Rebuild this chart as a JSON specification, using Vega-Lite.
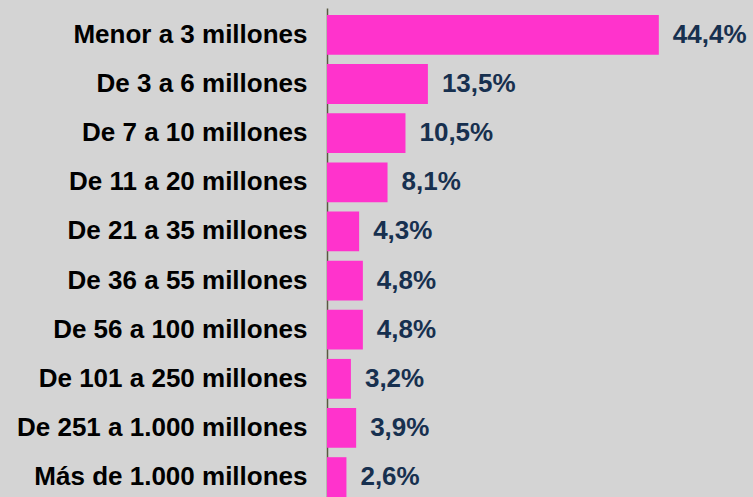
{
  "$schema": "https://vega.github.io/schema/vega-lite/v6.json",
  "width": 426,
  "height": 489,
  "autosize": {"type": "none"},
  "padding": {"left": 327, "top": 8, "right": 0, "bottom": 0},
  "background": "#d4d4d4",
  "config": {"view": {"stroke": null}, "font": "Liberation Sans"},
  "data": {
    "values": [
      {"rango": "Menor a 3 millones", "pct": 44.4, "label": "44,4%"},
      {"rango": "De 3 a 6 millones", "pct": 13.5, "label": "13,5%"},
      {"rango": "De 7 a 10 millones", "pct": 10.5, "label": "10,5%"},
      {"rango": "De 11 a 20 millones", "pct": 8.1, "label": "8,1%"},
      {"rango": "De 21 a 35 millones", "pct": 4.3, "label": "4,3%"},
      {"rango": "De 36 a 55 millones", "pct": 4.8, "label": "4,8%"},
      {"rango": "De 56 a 100 millones", "pct": 4.8, "label": "4,8%"},
      {"rango": "De 101 a 250 millones", "pct": 3.2, "label": "3,2%"},
      {"rango": "De 251 a 1.000 millones", "pct": 3.9, "label": "3,9%"},
      {"rango": "Más de 1.000 millones", "pct": 2.6, "label": "2,6%"}
    ]
  },
  "encoding": {
    "y": {
      "field": "rango",
      "type": "nominal",
      "sort": null,
      "scale": {"paddingInner": 0.19, "paddingOuter": 0.071, "align": 1},
      "axis": {
        "title": null,
        "ticks": false,
        "labelPadding": 20,
        "labelFontSize": 26,
        "labelFontWeight": "bold",
        "labelColor": "#000000",
        "labelFont": "Liberation Sans",
        "labelLimit": 0,
        "domainColor": "#595941",
        "domainWidth": 1.5,
        "grid": false
      }
    },
    "x": {
      "field": "pct",
      "type": "quantitative",
      "scale": {"domain": [0, 57], "nice": false, "zero": true},
      "axis": null
    }
  },
  "layer": [
    {"mark": {"type": "bar", "color": "#ff33cc"}},
    {
      "mark": {
        "type": "text",
        "align": "left",
        "baseline": "middle",
        "dx": 14,
        "fontSize": 26,
        "fontWeight": "bold",
        "font": "Liberation Sans",
        "color": "#17304f"
      },
      "encoding": {"text": {"field": "label"}}
    }
  ]
}
